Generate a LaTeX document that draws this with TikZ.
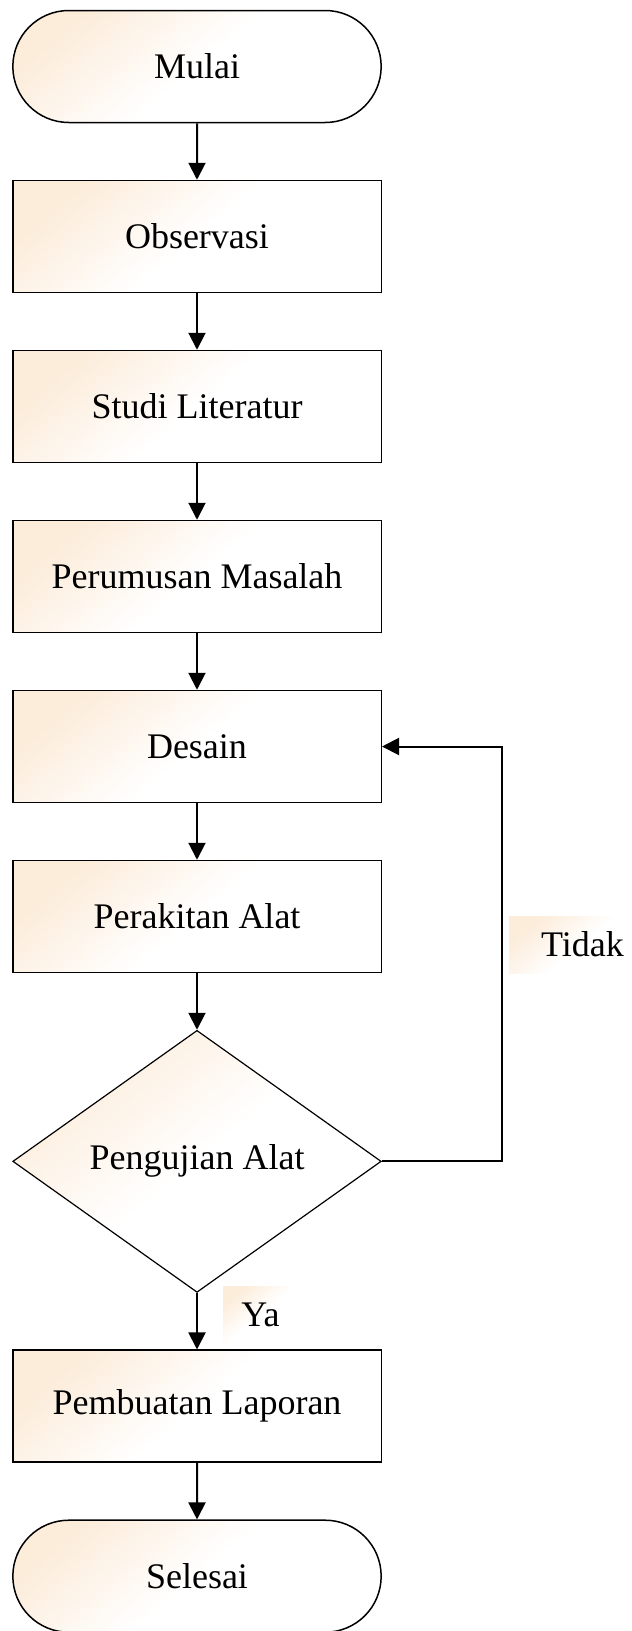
\documentclass[tikz,border=0pt]{standalone}
\usepackage{fontspec}
\setmainfont{Liberation Serif}
\usetikzlibrary{chains,positioning,shapes.geometric,shapes.misc,arrows.meta}
\definecolor{peach}{RGB}{252,236,218}

\begin{document}
\begin{tikzpicture}[
x=1pt, y=1pt,
base/.style={
  draw,
  line width=1.5pt,
  top color=peach,
  bottom color=white,
  middle color=white,
  shading angle=40,
  font=\fontsize{36}{43}\selectfont
  },
terminal/.style={base, rounded rectangle, minimum width=375pt, minimum height=112pt},
process/.style={base, rectangle, minimum width=368.5pt, minimum height=112pt},
decision/.style={base, diamond, line width=1.2pt, minimum width=368.5pt, minimum height=262pt},
answer/.style={
  top color=peach,
  bottom color=white,
  middle color=white,
  shading angle=40,
  minimum height=57pt,
  font=\fontsize{36}{43}\selectfont
  },
arrowline/.style={line width=2pt, -{Triangle[length=17pt,width=17pt]}},
node distance=56.5pt,
start chain=going below
]
\useasboundingbox (0,0) rectangle (632,-1631);
\node[terminal,on chain] (mulai) at (197,-66.5) {Mulai};
\foreach \Name/\Text in {obs/Observasi,studi/Studi Literatur,rumus/Perumusan Masalah,desain/Desain,rakit/Perakitan Alat}
  \node[process,on chain] (\Name) {\Text};
\node[decision,on chain] (uji) {Pengujian Alat};
\node[process,on chain] (laporan) {Pembuatan Laporan};
\node[terminal,on chain] (selesai) {Selesai};
% labels of the two exits
\node[answer,minimum width=147pt] (tidak) at (582.5,-944.5) {Tidak};
\node[answer,minimum width=75pt] (ya) at (260.5,-1314.5) {Ya};
\coordinate (balik) at (502,-1160);
\path[arrowline]
	(mulai) edge (obs)
	(obs) edge (studi)
	(studi) edge (rumus)
	(rumus) edge (desain)
	(desain) edge (rakit)
	(rakit) edge (uji)
	(uji) edge (laporan)
	(laporan) edge (selesai);
\draw[arrowline] (uji.east) -- (uji.east -| balik) |- (desain.east);
\end{tikzpicture}
\end{document}
